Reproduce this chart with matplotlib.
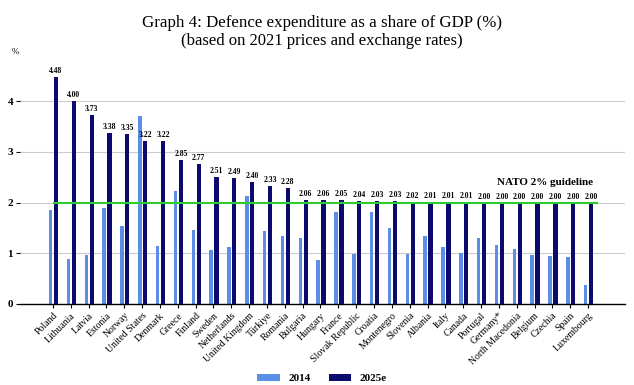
import matplotlib
matplotlib.use("Agg")
import matplotlib.pyplot as plt
import numpy as np

countries = ["Poland", "Lithuania", "Latvia", "Estonia", "Norway", "United States",
             "Denmark", "Greece", "Finland", "Sweden", "Netherlands", "United Kingdom",
             "Türkiye", "Romania", "Bulgaria", "Hungary", "France", "Slovak Republic",
             "Croatia", "Montenegro", "Slovenia", "Albania", "Italy", "Canada",
             "Portugal", "Germany*", "North Macedonia", "Belgium", "Czechia", "Spain",
             "Luxembourg"]
v2014 = [1.85, 0.89, 0.97, 1.90, 1.54, 3.70, 1.15, 2.23, 1.46, 1.07, 1.13, 2.14,
         1.45, 1.35, 1.31, 0.86, 1.82, 0.99, 1.82, 1.50, 0.99, 1.34, 1.13, 1.01,
         1.31, 1.17, 1.09, 0.97, 0.95, 0.93, 0.38]
v2025 = [4.48, 4.00, 3.73, 3.38, 3.35, 3.22, 3.22, 2.85, 2.77, 2.51, 2.49, 2.40,
         2.33, 2.28, 2.06, 2.06, 2.05, 2.04, 2.03, 2.03, 2.02, 2.01, 2.01, 2.01,
         2.00, 2.00, 2.00, 2.00, 2.00, 2.00, 2.00]
guideline = 2.0

LIGHT = "#5b8ee6"
DARK = "#0b0b6e"
GREEN = "#2ecc2e"
SERIF = ["Liberation Serif", "DejaVu Serif"]
plt.rcParams["font.family"] = SERIF

fig = plt.figure(figsize=(6.34, 3.85), dpi=100)
ax = fig.add_axes([0.0315, 0.2104, 0.9545, 0.6056])

x = np.arange(len(countries))
ax.bar(x - 0.13, v2014, width=0.2, color=LIGHT, label="2014", zorder=2)
ax.bar(x + 0.17, v2025, width=0.24, color=DARK, label="2025e", zorder=3)

for xi, v in zip(x, v2025):
    ax.text(xi + 0.17, v + 0.04, f"{v:.2f}", ha="center", va="bottom",
            fontsize=5.5, fontweight="bold", zorder=5)

ax.plot([0.06, 30.5], [guideline, guideline], color=GREEN, lw=1.5, zorder=4)
ax.text(30.3, 2.3, "NATO 2% guideline", ha="right", va="bottom",
        fontsize=8, fontweight="bold")

ax.set_xlim(-1.85, 32.08)
ax.set_ylim(0, 4.6)
ax.set_yticks([0, 1, 2, 3, 4])
ax.set_yticklabels(["0", "1", "2", "3", "4"], fontsize=8, fontweight="bold")
ax.set_xticks(x)
ax.set_xticklabels(countries, rotation=45, ha="right", rotation_mode="anchor",
                   fontsize=7)
ax.tick_params(axis="x", length=3, width=0.8, pad=2)
ax.tick_params(axis="y", length=3, width=0.8, pad=2)
ax.grid(axis="y", color="#cccccc", lw=0.8, zorder=0)
for s in ["top", "right", "left"]:
    ax.spines[s].set_visible(False)
ax.spines["bottom"].set_linewidth(1.0)

fig.text(0.508, 0.940, "Graph 4: Defence expenditure as a share of GDP (%)",
         ha="center", va="center", fontsize=12.2)
fig.text(0.508, 0.894, "(based on 2021 prices and exchange rates)",
         ha="center", va="center", fontsize=12)
fig.text(0.019, 0.865, "%", ha="left", va="center", fontsize=6.5)

leg = fig.legend(loc="center", bbox_to_anchor=(0.508, 0.016), ncol=2,
                 frameon=False, handlelength=2.0, handleheight=0.55,
                 columnspacing=1.6, prop={"size": 8, "weight": "bold", "family": SERIF})

fig.savefig("out.png", dpi=100)
